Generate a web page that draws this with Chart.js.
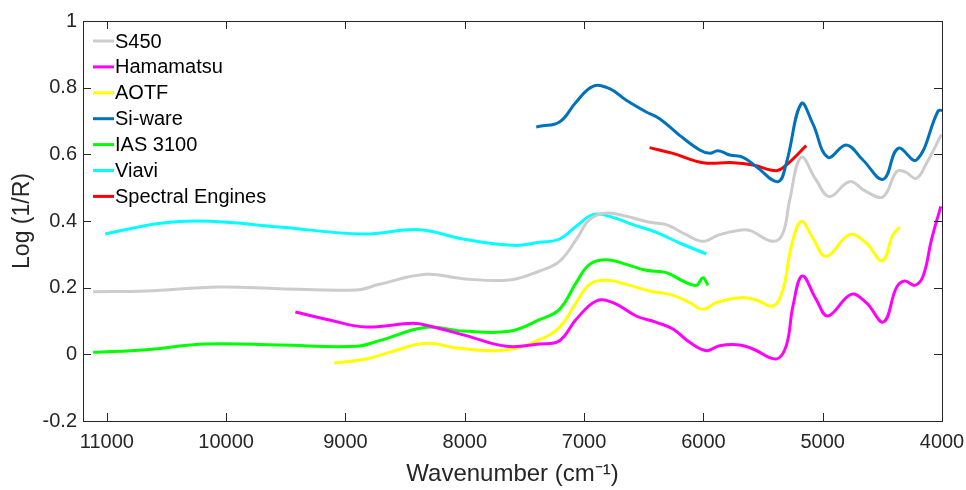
<!DOCTYPE html>
<html>
<head>
<meta charset="utf-8">
<script src="https://cdn.jsdelivr.net/npm/chart.js@4"></script>
<style>
  html, body { margin: 0; padding: 0; background: #fff; }
  #wrap { width: 966px; height: 490px; }
</style>
</head>
<body>
<div id="wrap"><canvas id="specChart" width="966" height="490"></canvas></div>
<script>
// wavenumber (cm-1) and log(1/R) values
const s450X = [11115, 10673, 10058, 9554, 8911, 8716, 8324, 8017, 7625, 7373, 7206, 7066, 6954, 6814, 6646, 6451, 6311, 6144, 6004, 5864, 5696, 5612, 5417, 5333, 5276, 5180, 5055, 4943, 4775, 4635, 4493, 4382, 4312, 4214, 4130, 4005];
const s450Y = [0.188, 0.190, 0.202, 0.197, 0.193, 0.210, 0.240, 0.227, 0.223, 0.250, 0.279, 0.344, 0.404, 0.424, 0.414, 0.396, 0.389, 0.359, 0.339, 0.359, 0.372, 0.372, 0.339, 0.364, 0.464, 0.591, 0.523, 0.473, 0.518, 0.488, 0.473, 0.548, 0.548, 0.528, 0.573, 0.660];

const hamaX = [9420, 9135, 8827, 8436, 8296, 7989, 7653, 7373, 7206, 7066, 6898, 6758, 6563, 6395, 6255, 6115, 5975, 5864, 5696, 5584, 5389, 5305, 5249, 5171, 5055, 4957, 4761, 4635, 4490, 4382, 4312, 4228, 4158, 4088, 4010];
const hamaY = [0.127, 0.103, 0.082, 0.093, 0.085, 0.056, 0.024, 0.031, 0.041, 0.105, 0.160, 0.155, 0.115, 0.096, 0.076, 0.036, 0.011, 0.026, 0.028, 0.016, -0.014, 0.026, 0.145, 0.235, 0.165, 0.115, 0.180, 0.155, 0.097, 0.200, 0.220, 0.207, 0.235, 0.344, 0.444];

const aotfX = [9094, 8827, 8632, 8324, 8045, 7653, 7373, 7206, 7066, 6954, 6814, 6646, 6451, 6255, 6115, 6004, 5892, 5696, 5556, 5417, 5333, 5263, 5180, 5083, 4971, 4775, 4635, 4501, 4411, 4355];
const aotfY = [-0.026, -0.014, 0.006, 0.033, 0.018, 0.013, 0.044, 0.081, 0.155, 0.210, 0.222, 0.210, 0.190, 0.177, 0.155, 0.135, 0.155, 0.170, 0.163, 0.145, 0.195, 0.324, 0.399, 0.349, 0.294, 0.359, 0.334, 0.281, 0.359, 0.381];

const siwareX = [7401, 7373, 7206, 7066, 6926, 6786, 6646, 6479, 6367, 6199, 6031, 5947, 5877, 5779, 5668, 5556, 5375, 5305, 5180, 5083, 4957, 4803, 4663, 4493, 4368, 4214, 4033, 4000];
const siwareY = [0.682, 0.684, 0.697, 0.757, 0.804, 0.797, 0.762, 0.727, 0.707, 0.657, 0.613, 0.603, 0.611, 0.598, 0.591, 0.563, 0.518, 0.573, 0.752, 0.692, 0.591, 0.628, 0.583, 0.525, 0.618, 0.583, 0.730, 0.732];

const iasX = [11115, 10673, 10170, 9554, 8911, 8716, 8324, 8017, 7625, 7373, 7206, 7066, 6954, 6814, 6646, 6479, 6311, 6171, 6059, 6004, 5962];
const iasY = [0.006, 0.014, 0.031, 0.028, 0.024, 0.041, 0.081, 0.070, 0.069, 0.104, 0.135, 0.215, 0.270, 0.284, 0.270, 0.252, 0.245, 0.220, 0.207, 0.230, 0.207];

const viaviX = [11014, 10534, 10142, 9554, 8856, 8380, 8017, 7597, 7373, 7206, 7066, 6926, 6786, 6591, 6395, 6199, 5975];
const viaviY = [0.361, 0.394, 0.399, 0.382, 0.361, 0.374, 0.346, 0.327, 0.336, 0.346, 0.384, 0.419, 0.414, 0.389, 0.366, 0.334, 0.301];

const specEngX = [6451, 6255, 6004, 5752, 5584, 5389, 5305, 5138];
const specEngY = [0.620, 0.603, 0.575, 0.575, 0.568, 0.551, 0.568, 0.626];

const yTicks = [-0.2, 0, 0.2, 0.4, 0.6, 0.8, 1];
const xTicks = [4000, 5000, 6000, 7000, 8000, 9000, 10000, 11000];

function pts(xs, ys) {
    return xs.map((x, i) => ({ x: x, y: ys[i] }));
}

function series(label, xs, ys, color) {
    return {
        label: label,
        data: pts(xs, ys),
        borderColor: color,
        backgroundColor: color,
        borderWidth: 3,
        pointRadius: 0,
        tension: 0.4,
        fill: false
    };
}

// box around the plot, inward ticks on all four sides, and the legend
const frame = {
    id: "frame",
    afterDraw(chart) {
        const c = chart.ctx;
        const a = chart.chartArea;
        const xs = chart.scales.x, ys = chart.scales.y;
        const len = 8;
        c.save();
        c.strokeStyle = "#262626";
        c.lineWidth = 1;
        c.strokeRect(a.left + 0.5, a.top + 0.5, a.right - a.left, a.bottom - a.top);
        c.beginPath();
        xs.ticks.forEach(t => {
            const px = Math.round(xs.getPixelForValue(t.value)) + 0.5;
            c.moveTo(px, a.bottom); c.lineTo(px, a.bottom - len);
            c.moveTo(px, a.top); c.lineTo(px, a.top + len);
        });
        ys.ticks.forEach(t => {
            const py = Math.round(ys.getPixelForValue(t.value)) + 0.5;
            c.moveTo(a.left, py); c.lineTo(a.left + len, py);
            c.moveTo(a.right, py); c.lineTo(a.right - len, py);
        });
        c.stroke();

        // legend
        c.font = "20px 'Liberation Sans', Arial, sans-serif";
        c.textBaseline = "middle";
        c.fillStyle = "#000";
        chart.data.datasets.forEach((ds, i) => {
            const y = 41 + i * 25.9;
            c.strokeStyle = ds.borderColor;
            c.lineWidth = 3;
            c.beginPath();
            c.moveTo(93, y); c.lineTo(114, y);
            c.stroke();
            c.fillText(ds.label, 115, y + 1);
        });
        c.restore();
    }
};

const ctx = document.getElementById("specChart").getContext("2d");
const specChart = new Chart(ctx, {
    type: "line",
    data: {
        datasets: [
            series("S450", s450X, s450Y, "#cccccc"),
            series("Hamamatsu", hamaX, hamaY, "#ff00ff"),
            series("AOTF", aotfX, aotfY, "#ffff00"),
            series("Si-ware", siwareX, siwareY, "#0072bd"),
            series("IAS 3100", iasX, iasY, "#00ff00"),
            series("Viavi", viaviX, viaviY, "#00ffff"),
            series("Spectral Engines", specEngX, specEngY, "#ff0000")
        ]
    },
    options: {
        responsive: false,
        animation: false,
        layout: { padding: { top: 21, right: 24, left: 0, bottom: 0 } },
        plugins: {
            legend: { display: false },
            tooltip: { enabled: false }
        },
        scales: {
            x: {
                type: "linear",
                reverse: true,
                min: 4000,
                max: 11200,
                afterBuildTicks: s => { s.ticks = xTicks.map(v => ({ value: v })); },
                afterFit: s => { s.height = 69; },
                grid: { display: false, drawTicks: false },
                border: { display: false },
                ticks: {
                    padding: 9,
                    color: "#262626",
                    font: { family: "'Liberation Sans', Arial, sans-serif", size: 20 },
                    callback: v => String(v)
                },
                title: {
                    display: true,
                    text: "Wavenumber (cm⁻¹)",
                    color: "#262626",
                    padding: { top: 0, bottom: 1 },
                    font: { family: "'Liberation Sans', Arial, sans-serif", size: 24 }
                }
            },
            y: {
                min: -0.2,
                max: 1,
                afterBuildTicks: s => { s.ticks = yTicks.map(v => ({ value: v })); },
                afterFit: s => { s.width = 83; },
                grid: { display: false, drawTicks: false },
                border: { display: false },
                ticks: {
                    padding: 6,
                    color: "#262626",
                    font: { family: "'Liberation Sans', Arial, sans-serif", size: 20 },
                    callback: v => String(+v.toFixed(1))
                },
                title: {
                    display: true,
                    text: "Log (1/R)",
                    color: "#262626",
                    padding: { top: 9, bottom: 0 },
                    font: { family: "'Liberation Sans', Arial, sans-serif", size: 23 }
                }
            }
        }
    },
    plugins: [frame]
});
</script>
</body>
</html>
